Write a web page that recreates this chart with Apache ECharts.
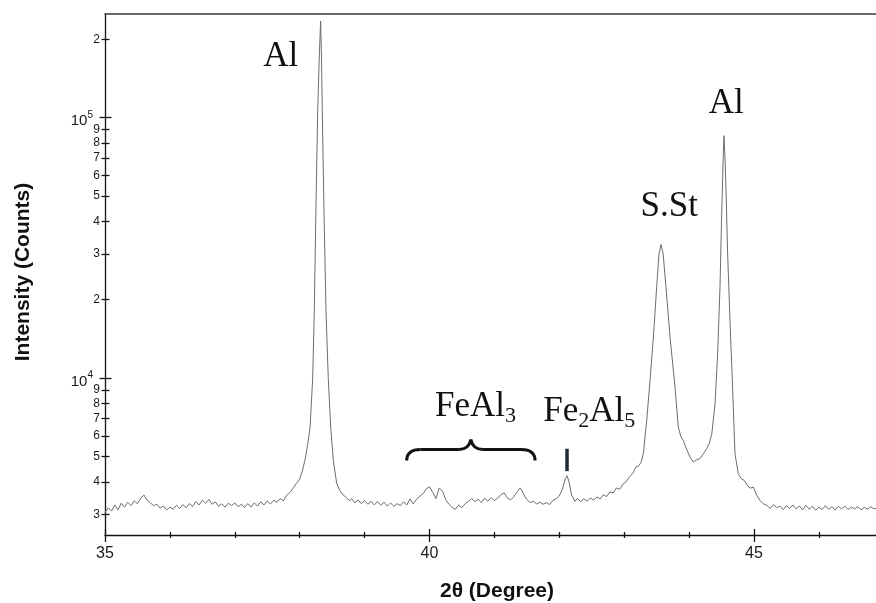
<!DOCTYPE html>
<html><head><meta charset="utf-8">
<script src="https://cdn.jsdelivr.net/npm/echarts@6/dist/echarts.min.js"></script>
<style>html,body{margin:0;padding:0;background:#fff}#c{width:876px;height:603px}</style>
</head><body><div id="c"></div>
<script>
// ---- data ----
const twoTheta = [
35.00,35.05,35.10,35.15,35.20,35.25,35.30,35.35,35.40,35.45,35.50,35.55,35.60,35.65,35.70,35.75,35.80,35.85,35.90,35.95,
36.00,36.05,36.10,36.15,36.20,36.25,36.30,36.35,36.40,36.45,36.50,36.55,36.60,36.65,36.70,36.75,36.80,36.85,36.90,36.95,
37.00,37.05,37.10,37.15,37.20,37.25,37.30,37.35,37.40,37.45,37.50,37.55,37.60,37.65,37.70,37.75,37.80,37.85,37.90,37.95,
38.00,38.04,38.08,38.12,38.16,38.20,38.225,38.25,38.277,38.30,38.322,38.336,38.348,38.374,38.405,38.44,38.478,38.518,38.57,38.62,
38.67,38.72,38.77,38.80,38.85,38.90,38.95,39.00,39.05,39.10,39.15,39.20,39.25,39.30,39.35,39.40,39.45,39.50,39.55,39.60,
39.65,39.70,39.75,39.80,39.85,39.90,39.95,40.00,40.05,40.10,40.15,40.20,40.25,40.30,40.35,40.40,40.45,40.50,40.55,40.60,
40.65,40.70,40.75,40.80,40.85,40.90,40.95,41.00,41.05,41.10,41.15,41.20,41.25,41.30,41.35,41.40,41.45,41.50,41.55,41.60,
41.65,41.70,41.75,41.80,41.85,41.90,41.95,42.00,42.05,42.09,42.12,42.15,42.19,42.24,42.28,42.33,42.38,42.43,42.48,42.53,
42.58,42.63,42.68,42.73,42.78,42.83,42.88,42.93,42.98,43.03,43.08,43.13,43.18,43.22,43.26,43.295,43.347,43.398,43.45,43.50,
43.536,43.567,43.60,43.644,43.706,43.783,43.834,43.87,43.91,43.96,44.014,44.065,44.12,44.168,44.22,44.27,44.31,44.35,44.40,44.44,
44.476,44.50,44.527,44.538,44.553,44.568,44.594,44.63,44.67,44.707,44.758,44.80,44.85,44.89,44.94,44.99,45.04,45.09,45.14,45.20,
45.25,45.30,45.35,45.40,45.45,45.50,45.55,45.60,45.65,45.70,45.75,45.80,45.85,45.90,45.95,46.00,46.05,46.10,46.15,46.20,
46.25,46.30,46.35,46.40,46.45,46.50,46.55,46.60,46.65,46.70,46.75,46.80,46.85,46.90
];
const counts = [
3050,3180,3090,3260,3120,3310,3200,3340,3240,3380,3300,3460,3560,3400,3320,3240,3280,3170,3230,3120,
3200,3140,3250,3160,3270,3180,3300,3220,3360,3260,3400,3310,3420,3280,3350,3220,3290,3200,3310,3240,
3320,3210,3280,3190,3300,3200,3320,3230,3350,3260,3380,3290,3400,3340,3450,3380,3560,3640,3780,3950,
4100,4400,4830,5500,6480,10000,18200,44000,106000,165000,235000,170000,106000,44000,18200,10000,6480,4830,3945,3700,
3560,3480,3380,3450,3320,3410,3300,3390,3280,3370,3260,3360,3250,3340,3230,3320,3220,3300,3240,3350,
3260,3440,3290,3430,3520,3600,3760,3830,3640,3450,3790,3680,3420,3280,3190,3140,3260,3180,3300,3360,
3450,3360,3430,3330,3460,3370,3480,3390,3460,3570,3630,3470,3410,3510,3660,3790,3590,3420,3330,3370,
3290,3340,3280,3330,3270,3390,3440,3530,3760,4100,4220,4000,3560,3370,3450,3360,3440,3370,3470,3400,
3500,3440,3570,3510,3660,3620,3790,3740,3920,4000,4180,4300,4560,4600,4750,5130,6880,9800,14400,22300,
30000,32600,30000,22300,14400,9240,6490,6000,5770,5350,4980,4760,4870,4910,5120,5360,5600,6120,7980,12400,
22300,40300,72600,85300,70000,54100,30000,16650,9240,5130,4300,4120,4050,3900,3780,3820,3560,3400,3300,3250,
3160,3270,3180,3230,3130,3240,3160,3260,3150,3230,3120,3250,3140,3220,3110,3200,3130,3240,3140,3210,
3120,3220,3150,3230,3130,3200,3150,3210,3120,3190,3140,3210,3150,3180
];
const xRange = [35, 46.88];
const yRange = [2500, 250000];
const xMajorTicks = [35, 40, 45];
const xMinorTicks = [36, 37, 38, 39, 41, 42, 43, 44, 46];
const yMajorTicks = [10000, 100000];
const yMinorTicks = [3000, 4000, 5000, 6000, 7000, 8000, 9000, 20000, 30000, 40000, 50000, 60000, 70000, 80000, 90000, 200000];

// annotations (data coordinates)
const annoLabels = ['Al', 'Al', 'S.St', 'FeAl{s|3}', 'Fe{s|2}Al{s|5}'];
const annoTheta = [37.709, 44.573, 43.693, 40.085, 41.753];
const annoCounts = [170600, 112900, 45300, 7740, 7406];
const annoAlign = ['center', 'center', 'center', 'left', 'left'];
const braceTheta = [39.649, 41.626];
const braceCounts = 4830;
const markerTheta = 42.119;
const markerCounts = [5358, 4396];

const xTitle = '2θ (Degree)';
const yTitle = 'Intensity (Counts)';

// ---- chart ----
const chart = echarts.init(document.getElementById('c'), null, {renderer: 'canvas'});
const AX = '#151515';
const lbl = {fontFamily: 'Liberation Sans', color: '#1a1a1a'};

function xAx(extra) {
  return Object.assign({
    type: 'value', min: xRange[0], max: xRange[1], position: 'bottom', gridIndex: 0,
    axisLine: {show: false}, splitLine: {show: false}, minorTick: {show: false},
    axisLabel: {show: false}, axisTick: {show: false}
  }, extra);
}
function yAx(extra) {
  return Object.assign({
    type: 'log', logBase: 10, min: yRange[0], max: yRange[1], position: 'left', gridIndex: 0,
    axisLine: {show: false}, splitLine: {show: false}, minorTick: {show: false},
    axisLabel: {show: false}, axisTick: {show: false}
  }, extra);
}
function tick(vals, inside, len) {
  return {show: true, customValues: vals, inside: inside, length: len, lineStyle: {color: AX, width: 1.3}};
}

const option = {
  animation: false,
  backgroundColor: '#fff',
  grid: {left: 105, right: 0, top: 14, bottom: 68, containLabel: false, outerBoundsMode: 'none'},
  xAxis: [
    xAx({axisLine: {show: true, onZero: false, lineStyle: {color: AX, width: 1.3}},
         axisTick: tick(xMinorTicks, false, 3),
         axisLabel: Object.assign({show: true, customValues: xMajorTicks, fontSize: 16, margin: 11}, lbl)}),
    xAx({axisTick: tick(xMinorTicks, true, 3)}),
    xAx({axisTick: tick(xMajorTicks, false, 7)}),
    xAx({axisTick: tick(xMajorTicks, true, 6)}),
    xAx({position: 'top', axisLine: {show: true, onZero: false, lineStyle: {color: '#3a3a3a', width: 1.5}}})
  ],
  yAxis: [
    yAx({axisLine: {show: true, onZero: false, lineStyle: {color: AX, width: 1.3}},
         axisTick: tick(yMinorTicks, false, 3.5),
         axisLabel: Object.assign({show: true, customValues: yMinorTicks, fontSize: 12, margin: 5,
           formatter: v => String(Math.round(v / Math.pow(10, Math.floor(Math.log10(v) + 1e-9))))}, lbl)}),
    yAx({axisTick: tick(yMinorTicks, true, 4.5)}),
    yAx({axisTick: tick(yMajorTicks, false, 5.5),
         axisLabel: Object.assign({show: true, customValues: yMajorTicks, margin: 12,
           formatter: v => '{b|10}{s|' + Math.round(Math.log10(v)) + '}',
           rich: {
             b: {fontSize: 15, lineHeight: 15, padding: [7, 0, 0, 0], fontFamily: 'Liberation Sans', color: '#1a1a1a'},
             s: {fontSize: 10, lineHeight: 12, verticalAlign: 'top', fontFamily: 'Liberation Sans', color: '#1a1a1a'}
           }}, lbl)}),
    yAx({axisTick: tick(yMajorTicks, true, 6.5)})
  ],
  series: [{
    type: 'line', xAxisIndex: 0, yAxisIndex: 0, showSymbol: false, symbol: 'none', silent: true, clip: true,
    lineStyle: {color: '#6c6c6c', width: 1},
    data: twoTheta.map((t, i) => [t, counts[i]])
  }]
};
chart.setOption(option);

const px = (x, y) => chart.convertToPixel({seriesIndex: 0}, [x, y]);
const serif = 'Liberation Serif';
const graphics = [];
annoLabels.forEach((t, i) => {
  const p = px(annoTheta[i], annoCounts[i]);
  graphics.push({
    type: 'text', x: p[0], y: p[1], z: 10,
    style: {
      text: t, fontSize: 35, fontFamily: serif, fill: '#111', lineHeight: 40,
      align: annoAlign[i], textAlign: annoAlign[i], verticalAlign: 'middle', textVerticalAlign: 'middle',
      rich: {s: {fontSize: 22, fontFamily: serif, fill: '#111', lineHeight: 6, verticalAlign: 'bottom'}}
    }
  });
});
// curly brace from quadratic curves and straight segments
const bl = px(braceTheta[0], braceCounts), br = px(braceTheta[1], braceCounts);
const yb = bl[1], xl = bl[0], xr = br[0], xm = (xl + xr) / 2, h1 = 11, h2 = 21;
const braceStyle = {fill: 'none', stroke: '#111', lineWidth: 3};
function quad(x1, y1, cx, cy, x2, y2) {
  return {type: 'bezierCurve', z: 10, shape: {x1: x1, y1: y1, x2: x2, y2: y2, cpx1: cx, cpy1: cy}, style: braceStyle};
}
function seg(x1, y1, x2, y2) {
  return {type: 'line', z: 10, shape: {x1: x1, y1: y1, x2: x2, y2: y2}, style: braceStyle};
}
graphics.push(quad(xl, yb, xl, yb - h1, xl + 14, yb - h1));
graphics.push(seg(xl + 14, yb - h1, xm - 12, yb - h1));
graphics.push(quad(xm - 12, yb - h1, xm - 2, yb - h1, xm, yb - h2));
graphics.push(quad(xm, yb - h2, xm + 2, yb - h1, xm + 12, yb - h1));
graphics.push(seg(xm + 12, yb - h1, xr - 14, yb - h1));
graphics.push(quad(xr - 14, yb - h1, xr, yb - h1, xr, yb));
const m1 = px(markerTheta, markerCounts[0]), m2 = px(markerTheta, markerCounts[1]);
graphics.push({type: 'line', z: 10, shape: {x1: m1[0], y1: m1[1], x2: m2[0], y2: m2[1]},
  style: {stroke: '#1e2b30', lineWidth: 3.5}});
graphics.push({type: 'text', x: 497, y: 591, style: {text: xTitle, font: 'bold 21px "Liberation Sans"', fill: '#111',
  align: 'center', textAlign: 'center', verticalAlign: 'middle', textVerticalAlign: 'middle'}});
graphics.push({type: 'text', x: 23, y: 272, rotation: Math.PI / 2, style: {text: yTitle, font: 'bold 21px "Liberation Sans"', fill: '#111',
  align: 'center', textAlign: 'center', verticalAlign: 'middle', textVerticalAlign: 'middle'}});
chart.setOption({graphic: graphics});
</script>
</body></html>
